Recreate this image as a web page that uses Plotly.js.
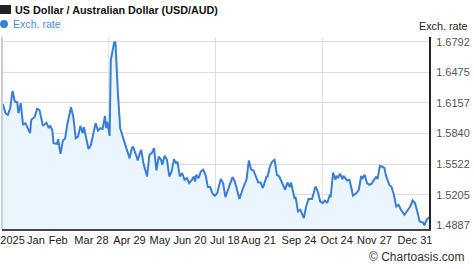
<!DOCTYPE html>
<html>
<head>
<meta charset="utf-8">
<script src="https://cdn.plot.ly/plotly-3.0.1.min.js"></script>
<style>html,body{margin:0;padding:0;background:#fff;}#chart{width:474px;height:269px;}</style>
</head>
<body>
<div id="chart"></div>
<script>
// Days since 31 Dec 2024
const days = [0,1,3,5,7,9,11,13,14,16,18,20,22,24,25,28,30,32,35,38,40,41,43,44,47,48,50,52,54,56,59,61,63,65,67,69,70,72,74,76,79,80,82,84,86,88,89,90,92,93,96,97,99,101,103,106,109,111,112,115,116,118,119,121,124,126,128,130,132,134,136,137,139,141,143,145,147,149,150,152,154,156,158,160,162,164,165,166,168,170,172,174,176,178,180,182,184,187,189,191,193,196,197,199,201,203,206,209,211,213,215,217,219,221,223,226,227,229,231,233,235,237,239,240,242,244,246,247,250,251,253,255,258,260,262,265,266,268,270,272,274,276,278,280,281,283,285,286,287,289,291,292,295,297,299,300,303,305,307,308,310,312,314,316,318,320,321,323,325,327,328,331,333,335,337,339,341,344,346,349,351,353,355,357,360,361,363,365];
const rates = [1.6147,1.6136,1.6050,1.6033,1.6102,1.6281,1.6171,1.6164,1.6050,1.6154,1.5929,1.5947,1.5895,1.5843,1.5981,1.6015,1.6095,1.6085,1.5919,1.5953,1.5895,1.5922,1.5877,1.5740,1.5732,1.5781,1.5629,1.5763,1.5791,1.5947,1.6113,1.6009,1.5791,1.5808,1.5919,1.5843,1.5905,1.5791,1.5678,1.5722,1.5912,1.5947,1.5870,1.5895,1.5888,1.6022,1.5895,1.5963,1.5815,1.6602,1.6792,1.6780,1.6274,1.5895,1.5815,1.5688,1.5584,1.5688,1.5704,1.5601,1.5559,1.5642,1.5670,1.5525,1.5394,1.5618,1.5636,1.5688,1.5456,1.5601,1.5567,1.5515,1.5608,1.5567,1.5394,1.5446,1.5574,1.5525,1.5549,1.5394,1.5429,1.5360,1.5377,1.5325,1.5352,1.5394,1.5342,1.5411,1.5377,1.5446,1.5463,1.5411,1.5284,1.5284,1.5215,1.5194,1.5222,1.5367,1.5325,1.5180,1.5256,1.5352,1.5388,1.5342,1.5238,1.5160,1.5274,1.5360,1.5559,1.5463,1.5456,1.5388,1.5332,1.5332,1.5274,1.5388,1.5394,1.5497,1.5549,1.5567,1.5411,1.5394,1.5342,1.5325,1.5256,1.5332,1.5284,1.5332,1.5170,1.5180,1.5031,1.5049,1.4963,1.5083,1.5160,1.5160,1.5204,1.5290,1.5238,1.5135,1.5118,1.5145,1.5118,1.5194,1.5187,1.5435,1.5360,1.5401,1.5377,1.5422,1.5367,1.5401,1.5352,1.5360,1.5256,1.5194,1.5222,1.5256,1.5401,1.5367,1.5411,1.5325,1.5308,1.5318,1.5360,1.5394,1.5367,1.5505,1.5497,1.5481,1.5411,1.5308,1.5284,1.5204,1.5083,1.5101,1.5049,1.4997,1.5031,1.5083,1.5145,1.5118,1.5031,1.4928,1.4917,1.4887,1.4945,1.4973];

const xTickDays = [9,29,48,76.5,109,135,160.7,190.6,219.3,253.9,286,318.4,353];
const xTickLabels = ["2025","Jan","Feb","Mar 28","Apr 29","May","Jun 20","Jul 18","Aug 21","Sep 24","Oct 24","Nov 27","Dec 31"];
const gridDays = [91.25,182.5,273.75];
const yTicks = [1.4887,1.5205,1.5522,1.5840,1.6157,1.6475,1.6792];
const yTickLabels = ["1.4887","1.5205","1.5522","1.5840","1.6157","1.6475","1.6792"];

const FONT = "Arial, 'Liberation Sans', sans-serif";

const trace = {
  x: days, y: rates, type: 'scatter', mode: 'lines',
  line: {color: '#3a7fd6', width: 2},
  fill: 'tozeroy', fillcolor: '#ebf5fe',
  hoverinfo: 'skip'
};

const shapes = gridDays.map(d => ({
  type: 'line', xref: 'x', yref: 'paper', x0: d, x1: d, y0: 0, y1: 1,
  line: {color: '#dddddd', width: 1}, layer: 'below'
}));
shapes.push({type:'line', xref:'paper', yref:'paper', x0:0, x1:0, y0:0, y1:1, line:{color:'#c5d0dc', width:2}});
shapes.push({type:'rect', xref:'paper', yref:'paper', x0:-0.0047, x1:0.0211, y0:1.1198, y1:1.1667, fillcolor:'#222', line:{width:0}});
shapes.push({type:'circle', xref:'paper', yref:'paper', x0:-0.0047, x1:0.0140, y0:1.0469, y1:1.0885, fillcolor:'#3a7fd6', line:{width:0}});

const layout = {
  width: 474, height: 269,
  margin: {l: 2, r: 45, t: 37, b: 40},
  paper_bgcolor: '#ffffff', plot_bgcolor: '#ffffff',
  showlegend: false,
  font: {family: FONT, size: 11, color: '#222'},
  xaxis: {
    range: [0, 365], tickmode: 'array', tickvals: xTickDays, ticktext: xTickLabels,
    tickangle: 0, autotickangles: [0],
    showgrid: false, zeroline: false, ticks: '', showline: true, linecolor: '#444', linewidth: 1.5,
    tickfont: {family: FONT, size: 11, color: '#222'}, fixedrange: true
  },
  yaxis: {
    side: 'right', range: [1.4849, 1.6841], tickmode: 'array', tickvals: yTicks, ticktext: yTickLabels,
    showgrid: true, gridcolor: '#dddddd', gridwidth: 1, zeroline: false, ticks: '',
    showline: true, linecolor: '#222', linewidth: 2, ticklabelstandoff: 3,
    tickfont: {family: FONT, size: 11, color: '#555'}, fixedrange: true
  },
  shapes: shapes,
  annotations: [
    {xref:'paper', yref:'paper', x:0.0258, y:1.1406, xanchor:'left', yanchor:'middle', showarrow:false,
     text:'<b>US Dollar / Australian Dollar (USD/AUD)</b>', font:{family:FONT, size:10.8, color:'#111'}},
    {xref:'paper', yref:'paper', x:0.0211, y:1.0677, xanchor:'left', yanchor:'middle', showarrow:false,
     text:'Exch. rate', font:{family:FONT, size:10.6, color:'#4a8ae0'}},
    {xref:'paper', yref:'paper', x:1.096, y:1.0573, xanchor:'right', yanchor:'middle', showarrow:false,
     text:'Exch. rate', font:{family:FONT, size:10.8, color:'#222'}},
    {xref:'paper', yref:'paper', x:1.089, y:-0.1458, xanchor:'right', yanchor:'middle', showarrow:false,
     text:'© Chartoasis.com', font:{family:FONT, size:12, color:'#333'}}
  ]
};

Plotly.newPlot('chart', [trace], layout, {displayModeBar: false, staticPlot: true});
</script>
</body>
</html>
